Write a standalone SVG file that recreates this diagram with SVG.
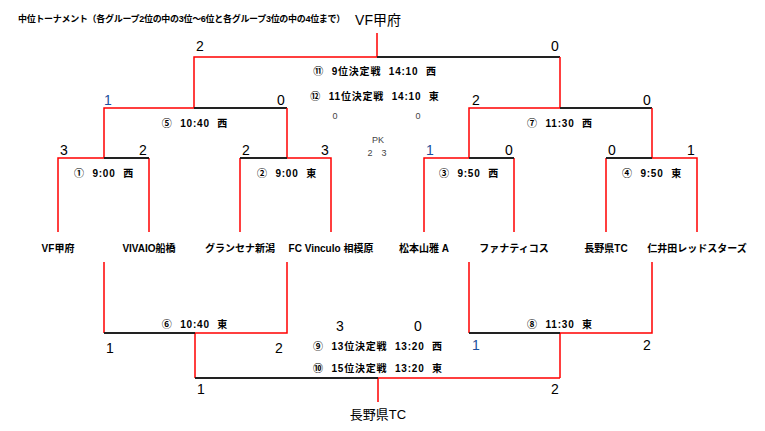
<svg xmlns="http://www.w3.org/2000/svg" width="765" height="431" viewBox="0 0 765 431">
<style>
.r{stroke:#f00;stroke-width:1.5;fill:none}
.k{stroke:#222;stroke-width:2;fill:none}
text{font-family:"Liberation Sans","Noto Sans CJK JP",sans-serif;fill:#000}
.s{font-size:14px;text-anchor:middle}
.b{fill:#1a4f9c}
.m{font-size:10px;font-weight:bold;text-anchor:middle;letter-spacing:0.8px;word-spacing:4px}
.t{font-size:10px;font-weight:bold;text-anchor:middle}
.p{font-size:9px;text-anchor:middle;fill:#444}
</style>
<rect width="765" height="431" fill="#fff"/>
<g id="connectors">
<path class="r" d="M377 33V57H194V108"/><path class="k" d="M377 57H560"/><path class="r" d="M560 57V108"/>
<path class="r" d="M194 108H104V158"/><path class="k" d="M194 108H287"/><path class="r" d="M287 108V158"/>
<path class="r" d="M104 158H58V232M149 158V232"/><path class="k" d="M104 158H149"/>
<path class="r" d="M287 158H331V232M240 158V232"/><path class="k" d="M240 158H287"/>
<path class="r" d="M560 108H469V158"/><path class="k" d="M560 108H652"/><path class="r" d="M652 108V158"/>
<path class="r" d="M469 158H424V232M514 158V232"/><path class="k" d="M469 158H514"/>
<path class="r" d="M652 158H697V232M606 158V232"/><path class="k" d="M606 158H652"/>
<path class="r" d="M104 262V333M287 262V333H195V378"/><path class="k" d="M104 333H195"/>
<path class="r" d="M469 262V333M652 262V333H560V378"/><path class="k" d="M469 333H560"/>
<path class="r" d="M378 378H560M378 378V402"/><path class="k" d="M195 378H378"/>
</g>
<g id="title"><text x="18" y="22" font-size="9" font-weight="bold" letter-spacing="-0.3">中位トーナメント（各グループ2位の中の3位～6位と各グループ3位の中の4位まで）</text></g>
<g id="winner-top"><text x="378" y="25" font-size="14" text-anchor="middle">VF甲府</text></g>
<g id="winner-bottom"><text x="378" y="419" font-size="13" text-anchor="middle">長野県TC</text></g>
<g id="scores">
<text class="s" x="200" y="51">2</text><text class="s" x="555" y="51">0</text>
<text class="s b" x="108" y="105">1</text><text class="s" x="281" y="105">0</text>
<text class="s" x="476" y="105">2</text><text class="s" x="647" y="105">0</text>
<text class="s" x="64" y="155">3</text><text class="s" x="143" y="155">2</text>
<text class="s" x="246" y="155">2</text><text class="s" x="325" y="155">3</text>
<text class="s b" x="430" y="155">1</text><text class="s" x="509" y="155">0</text>
<text class="s" x="612" y="155">0</text><text class="s" x="691" y="155">1</text>
<text class="s" x="340" y="331">3</text><text class="s" x="418" y="331">0</text>
<text class="s" x="110" y="353">1</text><text class="s" x="279" y="353">2</text>
<text class="s b" x="476" y="350">1</text><text class="s" x="647" y="350">2</text>
<text class="s" x="201" y="394" font-size="12">1</text><text class="s" x="555" y="394" font-size="12">2</text>
</g>
<g id="matches">
<text class="m" x="375" y="75">⑪ 9位決定戦 14:10 西</text>
<text class="m" x="375" y="100">⑫ 11位決定戦 14:10 東</text>
<text class="p" x="335" y="119">0</text><text class="p" x="418" y="119">0</text>
<text class="p" x="378" y="143">PK</text><text class="p" x="377" y="156">2　3</text>
<text class="m" x="195" y="127">⑤ 10:40 西</text>
<text class="m" x="104" y="177">① 9:00 西</text>
<text class="m" x="287" y="177">② 9:00 東</text>
<text class="m" x="560" y="127">⑦ 11:30 西</text>
<text class="m" x="469" y="177">③ 9:50 西</text>
<text class="m" x="652" y="177">④ 9:50 東</text>
<text class="m" x="195" y="328">⑥ 10:40 東</text>
<text class="m" x="560" y="328">⑧ 11:30 東</text>
<text class="m" x="378" y="350">⑨ 13位決定戦 13:20 西</text>
<text class="m" x="378" y="372">⑩ 15位決定戦 13:20 東</text>
</g>
<g id="teams">
<text class="t" x="58" y="252">VF甲府</text>
<text class="t" x="149" y="252">VIVAIO船橋</text>
<text class="t" x="240" y="252">グランセナ新潟</text>
<text class="t" x="331" y="252">FC Vinculo 相模原</text>
<text class="t" x="424" y="252">松本山雅 A</text>
<text class="t" x="514" y="252">ファナティコス</text>
<text class="t" x="606" y="252">長野県TC</text>
<text class="t" x="697" y="252">仁井田レッドスターズ</text>
</g>
</svg>
